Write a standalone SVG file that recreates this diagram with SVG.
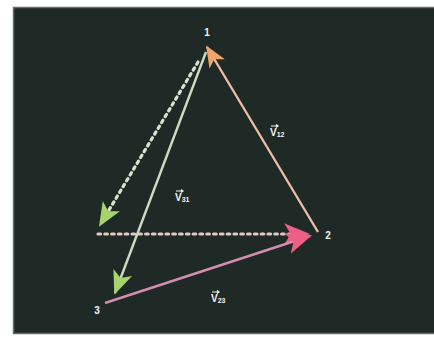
<svg xmlns="http://www.w3.org/2000/svg" width="434" height="339" viewBox="0 0 434 339">
<style>
.lbl{font-family:"Liberation Sans",Arial,sans-serif;font-weight:bold;fill:#f4f4f4;font-size:10px}
.vec{font-family:"Liberation Sans",Arial,sans-serif;font-weight:bold;fill:#f4f4f4;font-size:10px}
.sub{font-size:7px}
.bar{stroke:#f4f4f4;stroke-width:1.2;fill:none}
.ln{fill:none;stroke-width:2.4}
.dot{fill:none;stroke-width:3.2;stroke-dasharray:2.6 4.2;stroke-linecap:round}
</style>
<defs>
<marker id="aGreenBig" viewBox="0 0 12 10" refX="11" refY="5" markerWidth="24" markerHeight="20" markerUnits="userSpaceOnUse" orient="auto"><path d="M0,0 L12,5 L0,10 L3,5 z" fill="#a6d36e"/></marker>
<marker id="aOrange" viewBox="0 0 12 10" refX="11" refY="5" markerWidth="22" markerHeight="18" markerUnits="userSpaceOnUse" orient="auto"><path d="M0,0 L12,5 L0,10 L3,5 z" fill="#f0a468"/></marker>
<marker id="aPink" viewBox="0 0 12 10" refX="11" refY="5" markerWidth="26" markerHeight="22" markerUnits="userSpaceOnUse" orient="auto"><path d="M0,0 L12,5 L0,10 L3,5 z" fill="#ee5f86"/></marker>
</defs>
<rect x="0" y="0" width="434" height="339" fill="#ffffff"/>
<rect x="13.5" y="7.5" width="425" height="326" fill="#1f2925" stroke="#6a6e6c" stroke-width="1.5"/>
<g id="connectors">
<line class="dot" x1="198" y1="62" x2="100" y2="225" stroke="#d8e2d0" marker-end="url(#aGreenBig)"/>
<line class="dot" x1="98" y1="234" x2="308" y2="234" stroke="#e4c8c4" marker-end="url(#aPink)"/>
<line class="ln" x1="206" y1="52" x2="115" y2="293" stroke="#c9dcc4" marker-end="url(#aGreenBig)"/>
<line class="ln" x1="318" y1="232" x2="207" y2="47" stroke="#e9bca8" marker-end="url(#aOrange)"/>
<line class="ln" x1="105" y1="303" x2="310" y2="236" stroke="#d38db0" marker-end="url(#aPink)"/>
</g>
<g id="node1"><text class="lbl" x="207" y="36" text-anchor="middle">1</text></g>
<g id="node2"><text class="lbl" x="328" y="239" text-anchor="middle">2</text></g>
<g id="node3"><text class="lbl" x="97" y="314" text-anchor="middle">3</text></g>
<g id="label-v12"><path class="bar" d="M271,126 H278 M276,124.5 L278,126 L276,127.5"/><text class="vec" x="270" y="136">V<tspan class="sub" dy="1">12</tspan></text></g>
<g id="label-v31"><path class="bar" d="M176,191 H183 M181,189.5 L183,191 L181,192.5"/><text class="vec" x="175" y="201">V<tspan class="sub" dy="1">31</tspan></text></g>
<g id="label-v23"><path class="bar" d="M212,292 H219 M217,290.5 L219,292 L217,293.5"/><text class="vec" x="211" y="302">V<tspan class="sub" dy="1">23</tspan></text></g>
</svg>
